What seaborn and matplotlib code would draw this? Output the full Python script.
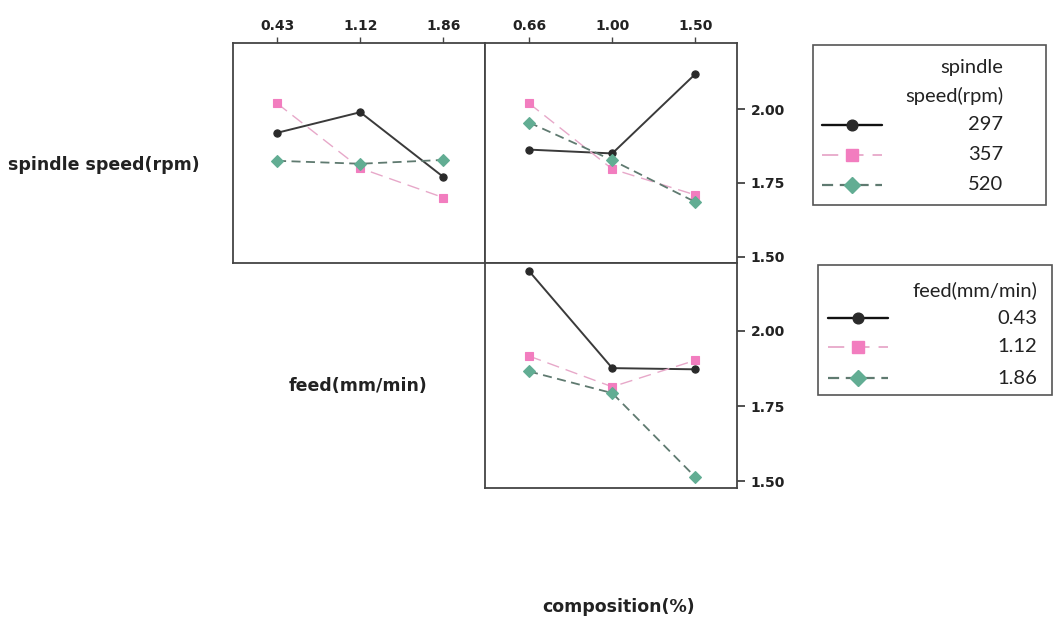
import numpy as np
import pandas as pd
import seaborn as sns
import matplotlib
matplotlib.use("Agg")
import matplotlib.pyplot as plt
from matplotlib.patches import Rectangle

# factor levels
feed_levels = ["0.43", "1.12", "1.86"]
comp_levels = ["0.66", "1.00", "1.50"]
speed_levels = ["297", "357", "520"]
y_ticks = [1.50, 1.75, 2.00]

# mean response, spindle speed traces over feed
speed_by_feed_297 = [1.92, 1.99, 1.77]
speed_by_feed_357 = [2.02, 1.80, 1.70]
speed_by_feed_520 = [1.825, 1.815, 1.828]

# mean response, spindle speed traces over composition
speed_by_comp_297 = [1.863, 1.85, 2.12]
speed_by_comp_357 = [2.02, 1.797, 1.709]
speed_by_comp_520 = [1.955, 1.827, 1.685]

# mean response, feed traces over composition
feed_by_comp_043 = [2.198, 1.876, 1.872]
feed_by_comp_112 = [1.916, 1.814, 1.902]
feed_by_comp_186 = [1.865, 1.793, 1.514]


def long_frame(levels, series):
    rows = []
    for lev, vals in zip(levels, series):
        for i, v in enumerate(vals):
            rows.append({"pos": i, "value": v, "group": lev})
    return pd.DataFrame(rows)


df_tl = long_frame(speed_levels, [speed_by_feed_297, speed_by_feed_357, speed_by_feed_520])
df_tr = long_frame(speed_levels, [speed_by_comp_297, speed_by_comp_357, speed_by_comp_520])
df_br = long_frame(feed_levels, [feed_by_comp_043, feed_by_comp_112, feed_by_comp_186])

sns.set_theme(style="white")
plt.rcParams["font.family"] = ["DejaVu Sans"]

# visual style per trace slot: (marker, face colour, line colour, dashes, lw, ms)
slot_style = [
    ("o", "#2a2a2a", "#3a3a3a", "", 1.4, 5.2),
    ("s", "#f27dbf", "#e7a8c9", (9, 5), 1.0, 6.0),
    ("D", "#62ad93", "#5f7a70", (5, 3), 1.3, 5.8),
]

fig = plt.figure(figsize=(10.56, 6.2), dpi=100)
W, H = 1056, 620


def px_axes(x0, y0, x1, y1):
    return fig.add_axes([x0 / W, 1 - y1 / H, (x1 - x0) / W, (y1 - y0) / H])


ax_tl = px_axes(233, 43, 485, 263)
ax_tr = px_axes(485, 43, 737, 263)
ax_br = px_axes(485, 263, 737, 488)

YLIM = (1.478, 2.225)


def draw_panel(ax, df, levels, xlabels, top_labels, right_labels):
    pal = {lev: slot_style[i][2] for i, lev in enumerate(levels)}
    mk = {lev: slot_style[i][0] for i, lev in enumerate(levels)}
    ds = {lev: slot_style[i][3] for i, lev in enumerate(levels)}
    sns.lineplot(data=df, x="pos", y="value", hue="group", style="group",
                 hue_order=levels, style_order=levels, palette=pal,
                 markers=mk, dashes=ds, legend=False, ax=ax)
    for i, line in enumerate(ax.lines[:3]):
        m, face, lc, d, lw, ms = slot_style[i]
        line.set_color(lc)
        line.set_linewidth(lw)
        line.set_markerfacecolor(face)
        line.set_markeredgecolor(face)
        line.set_markeredgewidth(0.8)
        line.set_markersize(ms)
    ax.set_xlim(-0.53, 2.5)
    ax.set_ylim(*YLIM)
    ax.set_xlabel("")
    ax.set_ylabel("")
    ax.set_xticks(range(3))
    ax.set_yticks(y_ticks)
    if top_labels:
        ax.xaxis.tick_top()
        ax.set_xticklabels(xlabels, fontsize=10, fontweight="bold", color="#222")
        ax.tick_params(axis="x", top=True, length=4, width=1, color="#444", pad=3)
    else:
        ax.set_xticklabels([])
        ax.tick_params(axis="x", bottom=False, top=False)
    if right_labels:
        ax.yaxis.tick_right()
        ax.set_yticklabels([f"{t:.2f}" for t in y_ticks], fontsize=10,
                           fontweight="bold", color="#222")
        ax.tick_params(axis="y", right=True, left=False, length=6, width=1.2,
                       color="#333", pad=4)
    else:
        ax.set_yticklabels([])
        ax.tick_params(axis="y", left=False, right=False)
    for sp in ax.spines.values():
        sp.set_color("#444")
        sp.set_linewidth(1.3)


draw_panel(ax_tl, df_tl, speed_levels, feed_levels, True, False)
draw_panel(ax_tr, df_tr, speed_levels, comp_levels, True, True)
draw_panel(ax_br, df_br, feed_levels, comp_levels, False, True)

# overlay for labels and legend boxes, in pixel coordinates
ov = fig.add_axes([0, 0, 1, 1], zorder=-1)
ov.set_xlim(0, W)
ov.set_ylim(H, 0)
ov.axis("off")

lab_kw = dict(fontsize=12.5, fontweight="bold", color="#222", va="center")
ov.text(8, 165, "spindle speed(rpm)", ha="left", **lab_kw)
ov.text(358, 386, "feed(mm/min)", ha="center", **lab_kw)
ov.text(619, 607, "composition(%)", ha="center", **lab_kw)

leg_font = dict(fontsize=14.5, family=["Lato", "DejaVu Sans"], color="#222")


def legend_box(x0, y0, x1, y1, title_lines, title_ys, labels, entry_ys,
               text_right, hx0, hx1):
    ov.add_patch(Rectangle((x0, y0), x1 - x0, y1 - y0, fill=False,
                           edgecolor="#555", linewidth=1.2))
    for t, ty in zip(title_lines, title_ys):
        ov.text(text_right, ty, t, ha="right", va="center", **leg_font)
    for i, (lab, ey) in enumerate(zip(labels, entry_ys)):
        m, face, lc, d, lw, ms = slot_style[i]
        ls = "-" if d == "" else (0, d)
        col = "#111" if i == 0 else lc
        ov.plot([hx0, hx1], [ey, ey], color=col, linestyle=ls, linewidth=lw + 0.3)
        ov.plot([(hx0 + hx1) / 2], [ey], marker=m, markersize=ms + 2.5,
                markerfacecolor=face, markeredgecolor=face, linestyle="none")
        ov.text(text_right, ey, lab, ha="right", va="center", **leg_font)


legend_box(813, 45, 1046, 205, ["spindle", "speed(rpm)"], [68, 96],
           speed_levels, [125, 155, 185], 1003, 822, 882)
legend_box(818, 265, 1052, 395, ["feed(mm/min)"], [290],
           feed_levels, [318, 347, 378], 1037, 828, 888)

fig.savefig("out.png", dpi=100, facecolor="white")
